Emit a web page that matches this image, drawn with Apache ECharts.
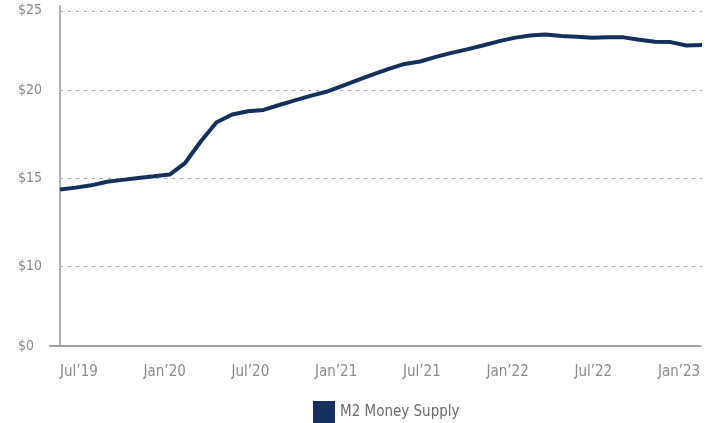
<!DOCTYPE html>
<html><head><meta charset="utf-8">
<script src="https://cdn.jsdelivr.net/npm/echarts@6/dist/echarts.min.js"></script>
<style>html,body{margin:0;padding:0;background:#fff}#c{width:724px;height:423px}</style>
</head><body><div id="c"></div>
<script>
const seriesName = 'M2 Money Supply';
const m2Values = [14.38, 14.49, 14.62, 14.82, 14.93, 15.04, 15.13, 15.23, 15.90, 17.12,
  18.20, 18.64, 18.83, 18.90, 19.18, 19.44, 19.70, 19.93, 20.25, 20.59,
  20.92, 21.23, 21.51, 21.65, 21.91, 22.14, 22.34, 22.56, 22.79, 22.99,
  23.12, 23.18, 23.10, 23.06, 23.00, 23.03, 23.02, 22.88, 22.77, 22.75,
  22.56, 22.58];
const xTickPos = [1.21, 6.685, 12.16, 17.635, 23.11, 28.585, 34.06, 39.535];
const xTickLabels = ['Jul’19', 'Jan’20', 'Jul’20', 'Jan’21', 'Jul’21', 'Jan’22', 'Jul’22', 'Jan’23'];
const yTickValues = [5.5, 10, 15, 20, 24.53];
const yTickLabels = ['$0', '$10', '$15', '$20', '$25'];

const FONT = "'Liberation Sans Narrow','DejaVu Sans Condensed','Roboto',sans-serif";
const lookup = (vals, labels, v) => {
  let best = 0;
  vals.forEach((p, i) => { if (Math.abs(p - v) < Math.abs(vals[best] - v)) best = i; });
  return Math.abs(vals[best] - v) < 0.05 ? labels[best] : '';
};

const chart = echarts.init(document.getElementById('c'), null, {renderer: 'canvas'});
chart.setOption({
  animation: false,
  grid: [
    {left: 60, right: 22, top: 6, bottom: 77},
    {left: 50, right: 24, top: 6, bottom: 77}
  ],
  legend: {
    data: [{name: seriesName, icon: 'rect'}],
    left: 308, top: 396,
    itemWidth: 22, itemHeight: 22,
    textStyle: {color: '#6b6b6b', fontSize: 15, fontFamily: FONT}
  },
  xAxis: [{
    type: 'value', gridIndex: 0, min: 0, max: m2Values.length - 1,
    axisLine: {show: false},
    axisTick: {show: false},
    splitLine: {show: false},
    axisLabel: {
      customValues: xTickPos,
      formatter: v => lookup(xTickPos, xTickLabels, v),
      color: '#8a8a8a', fontSize: 15, fontFamily: FONT, margin: 19
    }
  }, {
    type: 'value', gridIndex: 1, min: 0, max: 1,
    axisLine: {show: true, lineStyle: {color: '#a0a0a0', width: 2}},
    axisTick: {show: false}, axisLabel: {show: false}, splitLine: {show: false}
  }],
  yAxis: [{
    type: 'value', gridIndex: 0, min: 5.5, max: 24.8,
    axisLine: {show: true, lineStyle: {color: '#b4b4b4', width: 2}},
    axisTick: {show: false, customValues: yTickValues},
    splitLine: {show: true, lineStyle: {color: '#a8a8a8', width: 1, type: [3, 5]}},
    axisLabel: {
      customValues: yTickValues,
      formatter: v => lookup(yTickValues, yTickLabels, v),
      align: 'left', margin: 42,
      color: '#8a8a8a', fontSize: 14, fontFamily: FONT
    }
  }, {
    type: 'value', gridIndex: 1, min: 0, max: 1, show: false
  }],
  series: [{
    name: seriesName, type: 'line', xAxisIndex: 0, yAxisIndex: 0,
    data: m2Values.map((v, i) => [i, v]),
    showSymbol: false,
    lineStyle: {color: '#15305a', width: 4},
    itemStyle: {color: '#15305a'}
  }]
});
</script>
</body></html>
